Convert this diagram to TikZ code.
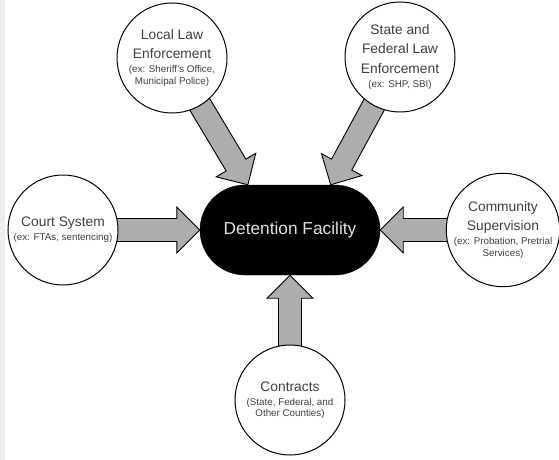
\documentclass[tikz,border=0pt]{standalone}
\usepackage{fontspec}
\setmainfont{Liberation Sans}
\usetikzlibrary{calc,backgrounds}
\tikzset{
  agency/.style={circle,draw,line width=1pt,fill=white,minimum size=110pt,inner sep=0pt,align=center,text=black!75,font=\fontsize{13.8}{18}\selectfont},
  hub/.style={rectangle,rounded corners=45pt,draw,fill=black,minimum width=180pt,minimum height=90pt,inner sep=0pt,text=black!12,font=\fontsize{17.3}{20}\selectfont},
  fatarrow/.style={draw,line width=0.9pt,fill=black!32,line join=miter}
}
\newcommand{\exnote}[1]{{\fontsize{9.8}{11.5}\selectfont #1}}
\newcommand{\fatarrow}[2]{%
  \path (#1) coordinate (fa-s) (#2) coordinate (fa-t);
  \path ($(fa-t)!23pt!(fa-s)$) coordinate (fa-h);
  \draw[fatarrow] ($(fa-s)!11.5pt!90:(fa-t)$) -- ($(fa-h)!11.5pt!-90:(fa-s)$) -- ($(fa-h)!23pt!-90:(fa-s)$) -- (fa-t)
     -- ($(fa-h)!23pt!90:(fa-s)$) -- ($(fa-h)!11.5pt!90:(fa-s)$) -- ($(fa-s)!11.5pt!-90:(fa-t)$) -- cycle;}
\begin{document}
\begin{tikzpicture}[x=1pt,y=-1pt]
  \useasboundingbox (0,0) rectangle (559,460);
  \fill[black!7] (0,0) rectangle (5,460);
  \node[hub] (det) at (290,230) {Detention Facility};
  \node[agency] (local) at (172,58) {Local Law\\[1.5pt]Enforcement\\[-4pt]\exnote{(ex: Sheriff's Office,}\\[-6.5pt]\exnote{Municipal Police)}};
  \node[agency] (state) at (400,57) {State and\\[1.5pt]Federal Law\\[1.5pt]Enforcement\\[-4pt]\exnote{(ex: SHP, SBI)}};
  \node[agency] (court) at (63,230) {Court System\\[-4pt]\exnote{(ex: FTAs, sentencing)}};
  \node[agency] (comm) at (503,230) {Community\\[1.5pt]Supervision\\[-4pt]\exnote{(ex: Probation, Pretrial}\\[-6.5pt]\exnote{Services)}};
  \node[agency] (contr) at (290,400) {Contracts\\[-4pt]\exnote{(State, Federal, and}\\[-6.5pt]\exnote{Other Counties)}};
  \begin{scope}[on background layer]
    \fatarrow{local}{det.133}
    \fatarrow{state}{det.48}
    \fatarrow{court}{det.west}
    \fatarrow{comm}{det.east}
    \fatarrow{contr}{det.south}
  \end{scope}
\end{tikzpicture}
\end{document}
